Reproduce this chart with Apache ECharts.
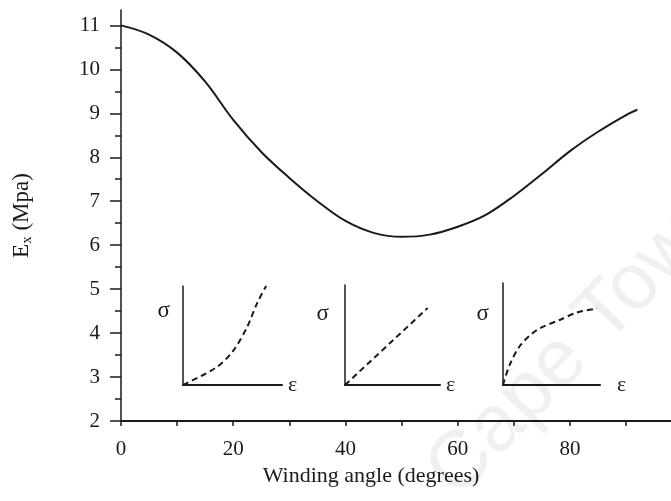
<!DOCTYPE html>
<html>
<head>
<meta charset="utf-8">
<script src="https://cdn.jsdelivr.net/npm/echarts@6/dist/echarts.min.js"></script>
<style>
  html, body { margin: 0; padding: 0; background: #fff; }
  #graph1 { width: 671px; height: 501px; }
</style>
</head>
<body>
<div id="graph1"></div>
<script>
	var myChart1 = echarts.init(document.getElementById('graph1'));

	// main curve: Ex against winding angle
	var angleDeg = [0, 5, 10, 15, 20, 25, 30, 35, 40, 45, 50, 55, 60, 65, 70, 75, 80, 85, 90, 92];
	var modulusEx = [11.0, 10.79, 10.38, 9.72, 8.85, 8.12, 7.53, 7.0, 6.55, 6.28, 6.19, 6.24, 6.42, 6.69, 7.12, 7.62, 8.14, 8.58, 8.96, 9.08];

	// tick labels
	var xTicks = [0, 10, 20, 30, 40, 50, 60, 70, 80, 90];
	var xLabels = [0, 20, 40, 60, 80];
	var yLabels = [2, 3, 4, 5, 6, 7, 8, 9, 10, 11];
	var yMinor = [2.5, 3.5, 4.5, 5.5, 6.5, 7.5, 8.5, 9.5, 10.5];

	// inset stress-strain sketches (strain, stress), normalised
	var strain1 = [0, 0.34, 0.51, 0.65, 0.75, 0.84];
	var stress1 = [0, 0.18, 0.35, 0.59, 0.83, 1.0];
	var strain2 = [0, 0.87];
	var stress2 = [0, 0.77];
	var strain3 = [0, 0.07, 0.18, 0.35, 0.59, 0.76, 0.97];
	var stress3 = [0, 0.2, 0.39, 0.54, 0.64, 0.71, 0.75];

	function pairs(xs, ys) {
		var out = [];
		for (var i = 0; i < xs.length; i++) {
			out.push([xs[i], ys[i]]);
		}
		return out;
	}

	var font = 'Liberation Serif';
	var ink = '#1a1a1a';

	function insetX(grid, gap) {
		return {
			type: 'value', gridIndex: grid, min: 0, max: 1,
			axisLine: { lineStyle: { color: ink, width: 2 } },
			axisTick: { show: false }, axisLabel: { show: false }, splitLine: { show: false },
			name: 'ε', nameLocation: 'end', nameGap: gap,
			nameTextStyle: { fontFamily: font, fontSize: 22, color: ink, padding: [16, 0, 0, 0] }
		};
	}
	function insetY(grid, gap, pad) {
		return {
			type: 'value', gridIndex: grid, min: 0, max: 1,
			axisLine: { lineStyle: { color: ink, width: 1.5 } },
			axisTick: { show: false }, axisLabel: { show: false }, splitLine: { show: false },
			name: 'σ', nameLocation: 'end', nameGap: gap,
			nameTextStyle: { fontFamily: font, fontSize: 23, color: ink, align: 'right', padding: [0, pad, 0, 0] }
		};
	}
	function dashed(idx, data, smooth) {
		return {
			type: 'line', xAxisIndex: idx, yAxisIndex: idx + 1,
			data: data, smooth: smooth, showSymbol: false, clip: false,
			lineStyle: { color: ink, width: 2, type: [6, 4] }
		};
	}

	var option = {
		animation: false,
		backgroundColor: '#fff',
		graphic: [{
			type: 'text', silent: true, z: -1,
			x: 470, y: 512, rotation: 0.8,
			style: { text: 'Cape Town', font: '80px "Liberation Sans"', fill: '#f0f0f0', textAlign: 'left', textVerticalAlign: 'bottom' }
		}],
		grid: [
			{ left: 121, top: 10, width: 550, bottom: 80 },
			{ left: 183, top: 286, width: 99, height: 99 },
			{ left: 345, top: 285, width: 95, height: 100 },
			{ left: 503, top: 283, width: 97, height: 102 }
		],
		xAxis: [
			{
				type: 'value', gridIndex: 0, min: 0, max: 98,
				axisLine: { lineStyle: { color: ink, width: 2 } },
				axisTick: { customValues: xTicks, length: 5, lineStyle: { color: ink, width: 1.5 } },
				axisLabel: { customValues: xLabels, margin: 18, fontFamily: font, fontSize: 21, color: ink },
				splitLine: { show: false },
				name: 'Winding angle (degrees)', nameLocation: 'middle', nameGap: 43,
				nameTextStyle: { fontFamily: font, fontSize: 22, color: ink, padding: [0, 50, 0, 0] }
			},
			insetX(1, 6), insetX(2, 6), insetX(3, 17)
		],
		yAxis: [
			{
				type: 'value', gridIndex: 0, min: 2, max: 11.35,
				axisLine: { show: true, lineStyle: { color: ink, width: 1.5 } },
				axisTick: { show: true, customValues: yLabels, length: 11, lineStyle: { color: ink, width: 1.5 } },
				axisLabel: { customValues: yLabels, margin: 21, fontFamily: font, fontSize: 21, color: ink },
				splitLine: { show: false },
				name: '{e|E}{s|x}{e| (Mpa)}', nameLocation: 'middle', nameGap: 86, nameRotate: 90,
				nameTextStyle: {
					fontFamily: font, color: ink,
					rich: {
						e: { fontFamily: font, fontSize: 23, color: ink, lineHeight: 26 },
						s: { fontFamily: font, fontSize: 15, color: ink, verticalAlign: 'bottom', lineHeight: 15 }
					}
				}
			},
			{
				type: 'value', gridIndex: 0, min: 2, max: 11.35, position: 'left',
				axisLine: { show: false },
				axisTick: { show: true, customValues: yMinor, length: 6, lineStyle: { color: ink, width: 1.5 } },
				axisLabel: { show: false },
				splitLine: { show: false }
			},
			insetY(1, -36, 13), insetY(2, -40, 16), insetY(3, -42, 14)
		],
		series: [
			{
				type: 'line', xAxisIndex: 0, yAxisIndex: 0,
				data: pairs(angleDeg, modulusEx), smooth: 0.35, showSymbol: false,
				lineStyle: { color: ink, width: 2 }
			},
			dashed(1, pairs(strain1, stress1), 0.3),
			dashed(2, pairs(strain2, stress2), false),
			dashed(3, pairs(strain3, stress3), 0.3)
		]
	};
	myChart1.setOption(option);
</script>
</body>
</html>
